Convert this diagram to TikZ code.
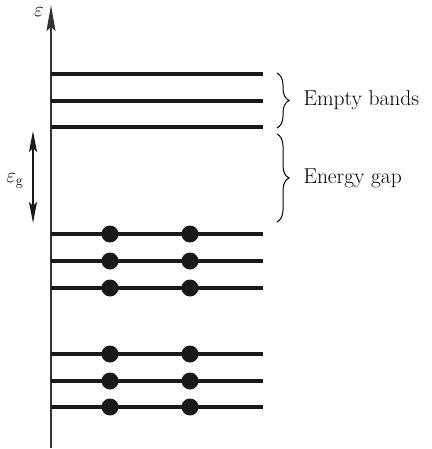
\documentclass[tikz,border=0pt]{standalone}
\usetikzlibrary{
  arrows.meta,
  positioning,
  decorations.pathreplacing
}
\tikzset{
  axisline/.style={line width=1.5pt, black!80, -{Stealth[length=26pt, width=9pt, inset=4pt]}},
  gapline/.style={line width=1.5pt, black!90,
    {Stealth[length=21pt, width=8pt, inset=4pt]}-{Stealth[length=21pt, width=8pt, inset=4pt]}},
  level/.style={line width=3.6pt, black!90},
  electron/.style={circle, fill=black!90, inner sep=0pt, minimum size=17pt},
  brace/.style={decorate, decoration={brace, amplitude=12pt}, line width=1pt, black},
  bandtag/.style={font=\fontsize{21.5}{26}\selectfont, anchor=west, inner sep=0pt, text=black},
  symtag/.style={font=\fontsize{22}{26}\selectfont, inner sep=0pt, text=black}
}

\begin{document}
\begin{tikzpicture}[x=1pt, y=-1pt]
  \useasboundingbox (0,0) rectangle (431,449);
  % energy axis
  \coordinate (axbot) at (51,448);
  \coordinate (axtop) at (51,5);
  \draw[axisline] (axbot) -- (axtop);
  \node[symtag] (eps) at (39,12) {$\varepsilon$};
  % empty bands
  \foreach \y [count=\i] in {74,101,127} {
    \coordinate (ea\i) at (51,\y);
    \coordinate (eb\i) at (263,\y);
    \draw[level] (ea\i) -- (eb\i);
  }
  % filled bands
  \foreach \y [count=\i] in {234,261,288,354,381,407} {
    \coordinate (fa\i) at (51,\y);
    \coordinate (fb\i) at (263,\y);
    \draw[level] (fa\i) -- (fb\i);
    \node[electron] (dl\i) at (110,\y) {};
    \node[electron] (dr\i) at (190,\y) {};
  }
  % gap width
  \coordinate (gtop) at (33,131);
  \coordinate (gbot) at (33,223);
  \draw[gapline] (gtop) -- (gbot);
  \node[symtag] (epsg) at (15,181) {$\varepsilon_{\mathrm{g}}$};
  % braces
  \coordinate (b1t) at (277,73);
  \coordinate (b1b) at (277,128);
  \coordinate (b2t) at (277,134);
  \coordinate (b2b) at (277,222);
  \draw[brace] (b1t) -- node[bandtag, right=26pt] (empty) {Empty bands} (b1b);
  \draw[brace] (b2t) -- node[bandtag, right=26pt] (gap) {Energy gap} (b2b);
\end{tikzpicture}
\end{document}
